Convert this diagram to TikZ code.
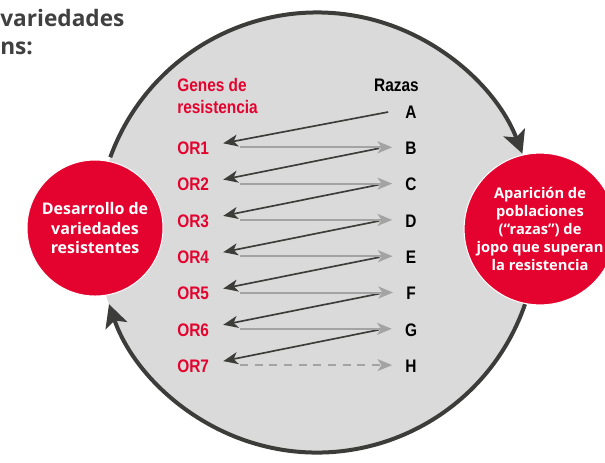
\documentclass[tikz,border=0pt]{standalone}
\usepackage{fontspec}
\setmainfont{Open Sans}
\newfontfamily\narrowfont[FakeStretch=0.85]{Liberation Sans}
\usepackage{tikz}
\usetikzlibrary{arrows.meta, positioning}
\usepackage{xcolor}
\definecolor{jopored}{RGB}{228, 3, 46}
\definecolor{cyclegray}{RGB}{218, 218, 218}
\definecolor{cycledark}{RGB}{60, 60, 59}
\definecolor{matchgray}{RGB}{163, 163, 163}
\definecolor{titlegray}{RGB}{64, 64, 64}

\tikzset{
  redblob/.style={circle, fill=jopored, draw=white, line width=0.75pt,
    minimum size=102pt, inner sep=0pt, text=white, align=center},
  gene/.style={inner sep=0pt, text=jopored,
    font=\narrowfont\bfseries\fontsize{13.6}{16.5}\selectfont},
  race/.style={inner sep=0pt, text=black,
    font=\narrowfont\bfseries\fontsize{13.6}{16.5}\selectfont},
  cyclearr/.style={cycledark, line width=3pt,
    -{Stealth[length=17pt, width=17pt, inset=4pt]}},
  breakarr/.style={cycledark, line width=1.25pt,
    -{Stealth[length=11pt, width=9pt, inset=3pt]}},
  matcharr/.style={matchgray, line width=1.5pt,
    -{Stealth[length=11pt, width=9pt, inset=3pt]}}
}

\begin{document}
\begin{tikzpicture}[x=0.75pt, y=-0.75pt]
  \useasboundingbox (0,0) rectangle (605,462);
  \node[anchor=base west, inner sep=0pt, text=titlegray,
    font=\bfseries\fontsize{17}{20}\selectfont] (ttl1) at (0,26) {variedades};
  \node[anchor=base west, inner sep=0pt, text=titlegray,
    font=\bfseries\fontsize{17}{20}\selectfont] (ttl2) at (0,54) {ns:};

  \coordinate (hub) at (317,232.5);
  \fill[cyclegray] (hub) circle[radius=220];
  \draw[cyclearr] ([shift={(-160:220)}]hub) arc[start angle=-160, end angle=-21, radius=220];
  \draw[cyclearr] ([shift={(19:220)}]hub) arc[start angle=19, end angle=161, radius=220];

  \node[redblob, font=\bfseries\fontsize{12}{14.6}\selectfont] (devel) at (95,228)
    {Desarrollo de\\variedades\\resistentes};
  \node[redblob, font=\bfseries\fontsize{11}{13.5}\selectfont] (emerge) at (540,229)
    {Aparición de\\poblaciones\\(“razas”) de\\jopo que superan\\la resistencia};

  \node[gene, anchor=north west, align=left] (genes) at (177,78) {Genes de\\resistencia};
  \node[race, anchor=base east] (razas) at (419,91) {Razas};

  \foreach \r [count=\i] in {A,B,C,D,E,F,G,H}
    \node[race] (\r) at (411,{112+36.3*(\i-1)}) {\r};
  \foreach \i in {1,...,7}
    \node[gene, anchor=west] (or\i) at (177,{148.3+36.3*(\i-1)}) {OR\i};

  \foreach \r/\i/\s in {A/1/-12.75,B/2/-19.5,C/3/-19.5,D/4/-19.5,E/5/-19.5,F/6/-19.5,G/7/-19.5}
    \draw[breakarr] ([xshift=\s pt]\r.west) -- ([xshift=10.5pt, yshift=3.75pt]or\i.east);
  \foreach \r/\i in {B/1,C/2,D/3,E/4,F/5,G/6}
    \draw[matcharr] ([xshift=23pt, yshift=0.75pt]or\i.east) -- ([xshift=-9.75pt, yshift=0.75pt]\r.west);
  \draw[matcharr, dash pattern=on 6pt off 5pt] ([xshift=23pt, yshift=0.75pt]or7.east)
    -- ([xshift=-9.75pt, yshift=0.75pt]H.west);
\end{tikzpicture}
\end{document}
